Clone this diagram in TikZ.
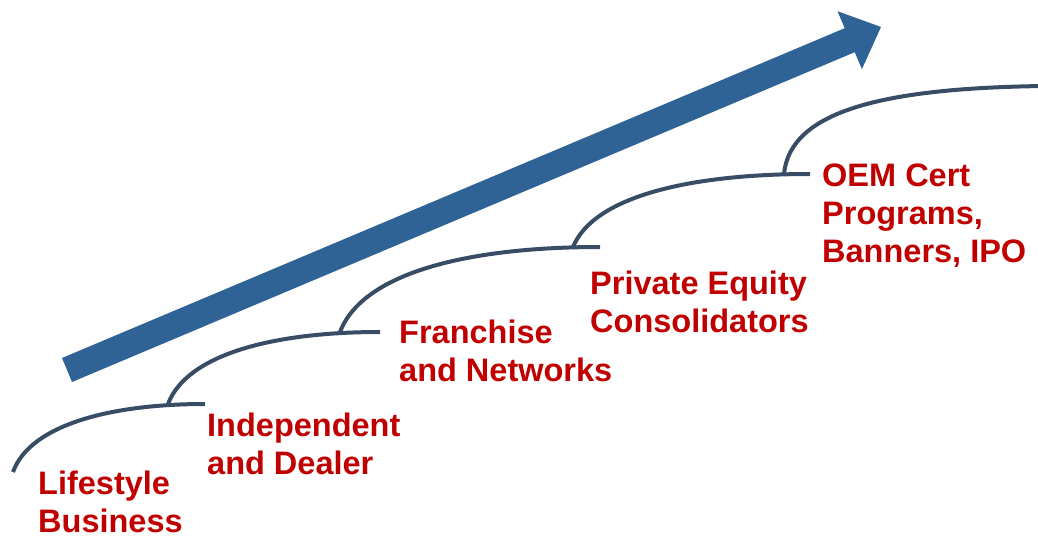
\documentclass[tikz,border=0pt]{standalone}
\usepackage{fontspec}
\setmainfont{Liberation Sans}
\begin{document}
\definecolor{arrowblue}{RGB}{47,99,150}
\definecolor{stepline}{RGB}{56,76,102}
\definecolor{labelred}{RGB}{192,0,0}
\tikzset{
  ledge/.style={draw=stepline, line width=4pt, line cap=butt},
  % anchored at the baseline of the last line
  stagelabel/.style={anchor=base west, inner sep=0pt, align=left, text=labelred,
    font=\fontsize{32.5}{37.5}\selectfont\bfseries}
}
\begin{tikzpicture}[x=1pt, y=-1pt]
  \useasboundingbox (0,0) rectangle (1038,537);
  \clip (0,0) rectangle (1038,537);

  % growth arrow
  \fill[arrowblue] (62.0,358.0) -- (844.7,28.2) -- (837.5,11.2) -- (881,27)
    -- (861.9,69.2) -- (854.7,52.2) -- (72.0,382.0) -- cycle;

  % stair-step ledges
  \coordinate (s1) at (13,472);
  \coordinate (s2) at (168,404);
  \coordinate (s3) at (340,332);
  \coordinate (s4) at (573,247);
  \coordinate (s5) at (784,174);
  \draw[ledge] (s1) .. controls (30,425) and (110,404) .. (205,404);
  \draw[ledge] (s2) .. controls (187,354) and (274,332) .. (380,332);
  \draw[ledge] (s3) .. controls (363,272) and (470,247) .. (600,247);
  \draw[ledge] (s4) .. controls (594,196) and (691,174) .. (810,174);
  \draw[ledge] (s5) .. controls (790,112) and (880,88) .. (1045,86);

  % stage labels
  \node[stagelabel, text depth=0pt] (l1) at (38,532) {Lifestyle\\Business};
  \node[stagelabel] (l2) at (207,474) {Independent\\and Dealer};
  \node[stagelabel] (l3) at (399,381) {Franchise\\and Networks};
  \node[stagelabel] (l4) at (590,332) {Private Equity\\Consolidators};
  \node[stagelabel] (l5) at (822,262) {OEM Cert\\Programs,\\Banners, IPO};
\end{tikzpicture}
\end{document}
